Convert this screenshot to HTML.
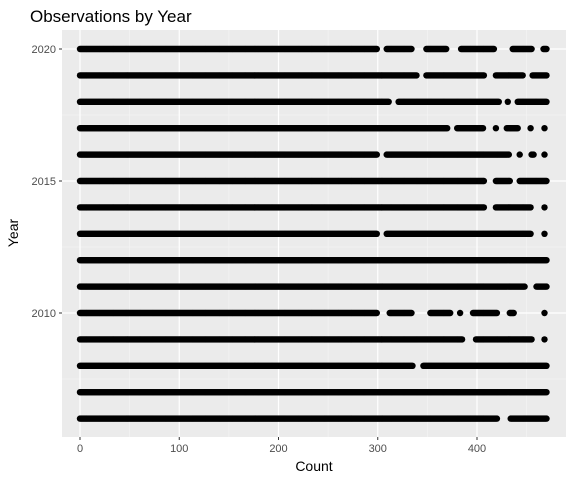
<!DOCTYPE html>
<html><head><meta charset="utf-8"><style>
body{margin:0;background:#fff;font-family:"Liberation Sans",sans-serif}
</style></head><body>
<svg id="chart" width="576" height="480" xmlns="http://www.w3.org/2000/svg">
<text x="30" y="22" font-size="17" fill="#000">Observations by Year</text>
<rect x="62" y="30" width="504" height="407" fill="#ebebeb"/>
<g id="grid"></g>
<g id="points" fill="#000"></g>
<g id="axes"></g>
<text x="314" y="471" font-size="14" text-anchor="middle">Count</text>
<text transform="translate(18,233) rotate(-90)" font-size="14" text-anchor="middle">Year</text>
</svg>
<script>
const years = [2020,2019,2018,2017,2016,2015,2014,2013,2012,2011,2010,2009,2008,2007,2006];
const segments = [
 [[0,302],[306,337],[346,372],[381,420],[433,458],[464,470]],
 [[0,342],[346,410],[416,449],[453,470]],
 [[0,314],[318,425],[431,431],[438,470]],
 [[0,373],[377,409],[419,419],[427,444],[454,454],[468,468]],
 [[0,302],[306,435],[443,443],[452,460],[468,468]],
 [[0,410],[416,436],[440,470]],
 [[0,410],[416,457],[468,468]],
 [[0,302],[306,457],[468,468]],
 [[0,470]],
 [[0,451],[457,470]],
 [[0,302],[309,337],[350,376],[383,383],[393,423],[430,440],[468,468]],
 [[0,388],[396,458],[468,468]],
 [[0,338],[343,470]],
 [[0,470]],
 [[0,423],[431,470]]
];
const xTicks = [0,100,200,300,400];
const xMinor = [50,150,250,350,450];
const yTicks = [2010,2015,2020];
const yMinor = [2007.5,2012.5,2017.5];
const NS="http://www.w3.org/2000/svg";
const R = 3.2;
const X = v => 80 + v*0.9925;
const Y = v => 49 + (2020 - v)*26.4;
const grid=document.getElementById('grid'), pts=document.getElementById('points'), axes=document.getElementById('axes');
function line(p,x1,y1,x2,y2,stroke,w){const l=document.createElementNS(NS,'line');l.setAttribute('x1',x1);l.setAttribute('y1',y1);l.setAttribute('x2',x2);l.setAttribute('y2',y2);l.setAttribute('stroke',stroke);l.setAttribute('stroke-width',w);p.appendChild(l);return l;}
xMinor.forEach(v=>{const l=line(grid,X(v),30,X(v),437,'#f5f5f5',0.6);

});
yMinor.forEach(v=>{const l=line(grid,62,Y(v),566,Y(v),'#f5f5f5',0.6);

});
xTicks.forEach(v=>{const l=line(grid,X(v),30,X(v),437,'#fff',1.2);


line(axes,X(v),437,X(v),440,'#333',1);
const tx=document.createElementNS(NS,'text');tx.setAttribute('x',X(v));tx.setAttribute('y',452);tx.setAttribute('font-size','11');tx.setAttribute('fill','#4d4d4d');tx.setAttribute('text-anchor','middle');tx.textContent=v;


axes.appendChild(tx);});
yTicks.forEach(v=>{const l=line(grid,62,Y(v),566,Y(v),'#fff',1.2);


line(axes,59,Y(v),62,Y(v),'#333',1);
const tx=document.createElementNS(NS,'text');tx.setAttribute('x',56);tx.setAttribute('y',Y(v)+4);tx.setAttribute('font-size','11');tx.setAttribute('fill','#4d4d4d');tx.setAttribute('text-anchor','end');tx.textContent=v;


axes.appendChild(tx);});
years.forEach((yr,i)=>{
 const g=document.createElementNS(NS,'g');
 
 
 segments[i].forEach(s=>{
   let a=s[0], b=s[1];
   // segment values are visible extents; shrink interior edges by the marker radius
   if(b>a){ if(a>0) a+=3; if(b<470) b-=3; if(b<a) b=a; }
   for(let c=a;c<=b;c++){const ci=document.createElementNS(NS,'circle');ci.setAttribute('cx',X(c).toFixed(1));ci.setAttribute('cy',Y(yr).toFixed(1));ci.setAttribute('r',R);g.appendChild(ci);}
 });
 pts.appendChild(g);
});
</script>
</body></html>
